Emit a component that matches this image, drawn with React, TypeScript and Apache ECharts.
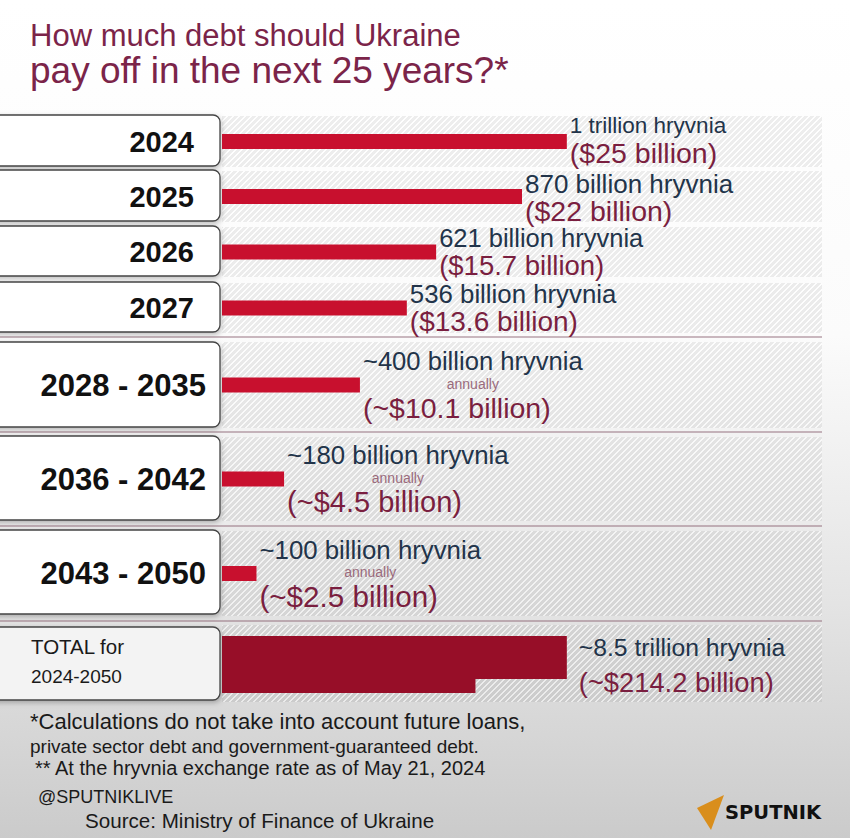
import React, { useEffect, useRef } from 'react';
import * as echarts from 'echarts';

// ---------- data ----------
const titleLines = ['How much debt should Ukraine', 'pay off in the next 25 years?*'];
const periods = ['2024', '2025', '2026', '2027', '2028 - 2035', '2036 - 2042', '2043 - 2050'];
const debtBnUAH = [1000, 870, 621, 536, 400, 180, 100];
const uahLabels = [
  '1 trillion hryvnia',
  '870 billion hryvnia',
  '621 billion hryvnia',
  '536 billion hryvnia',
  '~400 billion hryvnia',
  '~180 billion hryvnia',
  '~100 billion hryvnia',
];
const usdLabels = [
  '($25 billion)',
  '($22 billion)',
  '($15.7 billion)',
  '($13.6 billion)',
  '(~$10.1 billion)',
  '(~$4.5 billion)',
  '(~$2.5 billion)',
];
const isAnnual = [false, false, false, false, true, true, true];
const annualWord = 'annually';
const totalPeriod = ['TOTAL for', '2024-2050'];
const totalBarParts = [1000, 735];
const totalUAH = '~8.5 trillion hryvnia';
const totalUSD = '(~$214.2 billion)';
const footnotes = [
  '*Calculations do not take into account future loans,',
  'private sector debt and government-guaranteed debt.',
  '** At the hryvnia exchange rate as of May 21, 2024',
];
const credit = '@SPUTNIKLIVE';
const sourceText = 'Source: Ministry of Finance of Ukraine';
const brand = 'SPUTNIK';

// ---------- layout ----------
const FONT = '"Liberation Sans", Arial, sans-serif';
const rowTop = [116, 171, 227, 283, 342, 437, 531, 625];
const rowBottom = [167, 222, 277, 333, 428, 521, 616, 702];
const boxTop = [115, 170, 226, 282, 342, 436, 530, 627];
const boxBottom = [166, 221, 276, 332, 427, 520, 614, 700];
const labelRight = [194, 194, 194, 194, 206, 206, 206];
const labelShiftY = [-1.5, 1.5, 0, 0, 0, 0, 0];
const yearSize = [29, 29, 29, 29, 31, 31, 31];
const uahSize = [22.5, 26, 25.5, 25.8, 25.6, 25.8, 25.8];
const usdSize = [28.5, 28.5, 27.5, 28, 28.5, 29, 29.6];
const separators = [337, 432, 526, 621];
const GRID_LEFT = 222;
const GRID_WIDTH = 600;
const X_MAX = 1740;

function makeHatch(): string {
  const c = document.createElement('canvas');
  c.width = 6;
  c.height = 6;
  const ctx = c.getContext('2d')!;
  const img = ctx.createImageData(6, 6);
  for (let y = 0; y < 6; y++) {
    for (let x = 0; x < 6; x++) {
      const i = (y * 6 + x) * 4;
      const stripe = (x + y) % 6 < 2;
      if (stripe) {
        img.data[i] = 255; img.data[i + 1] = 255; img.data[i + 2] = 255; img.data[i + 3] = 120;
      } else {
        img.data[i] = 0; img.data[i + 1] = 0; img.data[i + 2] = 0; img.data[i + 3] = 16;
      }
    }
  }
  ctx.putImageData(img, 0, 0);
  return c.toDataURL();
}

export default function App() {
  const ref = useRef<HTMLDivElement>(null);

  useEffect(() => {
    if (!ref.current) return;
    const chart = echarts.init(ref.current, undefined, { renderer: 'svg' });
    const hatch = { image: makeHatch(), repeat: 'repeat', imageWidth: 6, imageHeight: 6 };

    const grids = rowTop.map((t, i) => ({
      left: GRID_LEFT,
      top: t,
      width: GRID_WIDTH,
      height: rowBottom[i] - t,
      show: true,
      backgroundColor: hatch,
      borderWidth: 0,
    }));
    const xAxes = rowTop.map((_, i) => ({
      type: 'value', gridIndex: i, min: 0, max: X_MAX, show: false,
    }));
    const yAxes = rowTop.map((_, i) => ({
      type: 'category', gridIndex: i, show: false,
      data: i < periods.length ? [periods[i]] : [totalPeriod.join(' ')],
    }));

    const barSeries = periods.map((p, i) => ({
      type: 'bar',
      name: p,
      xAxisIndex: i,
      yAxisIndex: i,
      data: [debtBnUAH[i]],
      barWidth: 15,
      itemStyle: { color: '#c8102e' },
      label: {
        show: true,
        position: 'right',
        distance: 3,
        offset: [0, labelShiftY[i]],
        formatter: () =>
          isAnnual[i]
            ? `{u|${uahLabels[i]}}\n{a|${annualWord}}\n{d|${usdLabels[i]}}`
            : `{u|${uahLabels[i]}}\n{d|${usdLabels[i]}}`,
        rich: {
          u: { fontFamily: FONT, fontSize: uahSize[i], color: '#22344a', lineHeight: isAnnual[i] ? 25 : 26.5 },
          a: { fontFamily: FONT, fontSize: 14, color: '#9a6a7c', lineHeight: 20, align: 'center' },
          d: { fontFamily: FONT, fontSize: usdSize[i], color: '#7a1f40', lineHeight: isAnnual[i] ? 28 : 29 },
        },
      },
    }));

    const ti = rowTop.length - 1;
    const totalSeries = {
      type: 'custom',
      xAxisIndex: ti,
      yAxisIndex: ti,
      data: [[totalBarParts[0], 0, totalBarParts[1]]],
      encode: { x: [0, 2], y: 1 },
      renderItem: (_params: any, api: any) => {
        const start = api.coord([0, 0]);
        const topEnd = api.coord([api.value(0), 0]);
        const botEnd = api.coord([api.value(2), 0]);
        const cy = topEnd[1];
        const t = cy - 27.5;
        const s = cy + 15.5;
        const b = cy + 29.5;
        return {
          type: 'group',
          children: [
            {
              type: 'polygon',
              shape: {
                points: [
                  [start[0], t], [topEnd[0], t], [topEnd[0], s],
                  [botEnd[0], s], [botEnd[0], b], [start[0], b],
                ],
              },
              style: { fill: '#970e28' },
            },
            {
              type: 'text',
              style: {
                text: totalUAH, x: topEnd[0] + 12, y: cy - 16,
                font: `24.7px ${FONT}`, fill: '#22344a',
                textAlign: 'left', textVerticalAlign: 'middle',
              },
            },
            {
              type: 'text',
              style: {
                text: totalUSD, x: topEnd[0] + 12, y: cy + 19,
                font: `27.3px ${FONT}`, fill: '#7a1f40',
                textAlign: 'left', textVerticalAlign: 'middle',
              },
            },
          ],
        };
      },
    };

    const graphics: any[] = [];
    // title
    graphics.push({
      type: 'text', left: 30, top: 20,
      style: { text: titleLines[0], font: `31px ${FONT}`, fill: '#7b2449' },
    });
    graphics.push({
      type: 'text', left: 30, top: 52,
      style: { text: titleLines[1], font: `37px ${FONT}`, fill: '#7b2449' },
    });
    // separators
    separators.forEach((y) => {
      graphics.push({
        type: 'line', shape: { x1: 0, y1: y, x2: 822, y2: y },
        style: { stroke: 'rgba(140,100,115,0.45)', lineWidth: 2 },
      });
    });
    // label boxes
    boxTop.forEach((t, i) => {
      const isTotal = i === boxTop.length - 1;
      graphics.push({
        type: 'rect',
        shape: { x: -8, y: t, width: 228, height: boxBottom[i] - t, r: [0, 7, 7, 0] },
        style: {
          fill: isTotal ? '#f3f3f3' : '#ffffff',
          stroke: '#444444', lineWidth: 1.3,
          shadowBlur: 5, shadowColor: 'rgba(0,0,0,0.25)', shadowOffsetX: 1, shadowOffsetY: 2,
        },
      });
      const cy = (t + boxBottom[i]) / 2;
      if (!isTotal) {
        graphics.push({
          type: 'text', x: labelRight[i], y: cy + 1,
          style: {
            text: periods[i], font: `bold ${yearSize[i]}px ${FONT}`, fill: '#111111',
            textAlign: 'right', textVerticalAlign: 'middle',
          },
        });
      } else {
        graphics.push({
          type: 'text', x: 31, y: cy - 17,
          style: { text: totalPeriod[0], font: `20.5px ${FONT}`, fill: '#1a1a1a', textAlign: 'left', textVerticalAlign: 'middle' },
        });
        graphics.push({
          type: 'text', x: 31, y: cy + 13,
          style: { text: totalPeriod[1], font: `19px ${FONT}`, fill: '#1a1a1a', textAlign: 'left', textVerticalAlign: 'middle' },
        });
      }
    });
    // footnotes
    const fnPos = [
      { x: 30, y: 721, s: 22 },
      { x: 30, y: 746, s: 19 },
      { x: 35, y: 768, s: 20 },
    ];
    footnotes.forEach((f, i) => {
      graphics.push({
        type: 'text', x: fnPos[i].x, y: fnPos[i].y,
        style: { text: f, font: `${fnPos[i].s}px ${FONT}`, fill: '#1a1a1a', textAlign: 'left', textVerticalAlign: 'middle' },
      });
    });
    graphics.push({
      type: 'text', x: 38, y: 797,
      style: { text: credit, font: `18px ${FONT}`, fill: '#1a1a1a', textAlign: 'left', textVerticalAlign: 'middle' },
    });
    graphics.push({
      type: 'text', x: 85, y: 820,
      style: { text: sourceText, font: `20.6px ${FONT}`, fill: '#1a1a1a', textAlign: 'left', textVerticalAlign: 'middle' },
    });
    // brand mark
    graphics.push({
      type: 'polygon',
      shape: { points: [[724, 795], [697, 808], [711, 830]] },
      style: { fill: '#d98e1c' },
    });
    graphics.push({
      type: 'text', x: 725, y: 812,
      style: { text: brand, font: `bold 19.5px "DejaVu Sans", sans-serif`, fill: '#111111', textAlign: 'left', textVerticalAlign: 'middle' },
    });

    chart.setOption({
      animation: false,
      backgroundColor: new echarts.graphic.LinearGradient(0, 0, 0, 1, [
        { offset: 0, color: '#ffffff' },
        { offset: 0.4, color: '#fbfbfb' },
        { offset: 0.72, color: '#e4e4e4' },
        { offset: 1, color: '#cbcbcb' },
      ]),
      grid: grids,
      xAxis: xAxes,
      yAxis: yAxes,
      series: [...barSeries, totalSeries],
      graphic: graphics,
    });

    return () => chart.dispose();
  }, []);

  return (
    <div
      ref={ref}
      style={{ position: 'fixed', left: 0, top: 0, width: 850, height: 838 }}
    />
  );
}
